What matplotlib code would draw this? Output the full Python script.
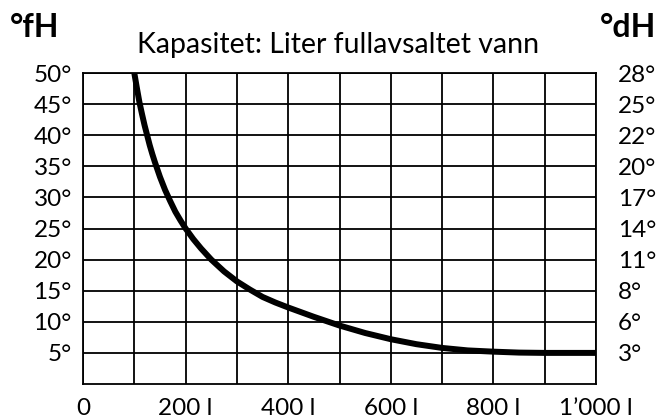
import matplotlib
matplotlib.use("Agg")
import matplotlib.pyplot as plt

# capacity curve
liters = [100, 105, 110, 115, 120, 125, 130, 135, 140, 150, 160, 170, 180, 190,
          200, 215, 230, 250, 275, 300, 325, 350, 375, 400, 450, 500, 550, 600,
          650, 700, 750, 800, 850, 900, 950, 1000]
hardness_fh = [50, 47.6, 45.3, 43.4, 41.6, 40, 38.4, 37, 35.7, 33.3, 31.2, 29.4,
               27.7, 26.3, 25, 23.3, 21.8, 20, 18.1, 16.5, 15.2, 14.0, 13.1,
               12.3, 10.8, 9.4, 8.2, 7.2, 6.4, 5.8, 5.4, 5.2, 5.05, 5.0, 5.0, 5.0]

x_ticks = [0, 200, 400, 600, 800, 1000]
x_labels = ["0", "200 l", "400 l", "600 l", "800 l", "1\u2019000 l"]
fh_ticks = [5, 10, 15, 20, 25, 30, 35, 40, 45, 50]
fh_labels = [f"{v}\u00b0" for v in fh_ticks]
dh_labels = ["3\u00b0", "6\u00b0", "8\u00b0", "11\u00b0", "14\u00b0",
             "17\u00b0", "20\u00b0", "22\u00b0", "25\u00b0", "28\u00b0"]

plt.rcParams['font.family'] = ['Lato', 'DejaVu Sans']

fig = plt.figure(figsize=(6.59, 4.17), dpi=100)
ax = fig.add_axes([83 / 659, 1 - 384 / 417, 513 / 659, 311 / 417])

ax.plot(liters, hardness_fh, color='black', lw=4.3, solid_capstyle='butt',
        solid_joinstyle='round', zorder=3)

ax.set_xlim(0, 1000)
ax.set_ylim(0, 50)
ax.set_xticks(x_ticks)
ax.set_xticklabels(x_labels)
ax.set_xticks(range(100, 1000, 200), minor=True)
ax.set_yticks(fh_ticks)
ax.set_yticklabels(fh_labels)
ax.grid(True, which='both', color='black', lw=1.3)
ax.tick_params(axis='both', which='both', length=0, labelsize=17.5)
ax.tick_params(axis='x', pad=10)
ax.tick_params(axis='y', pad=8)
for s in ax.spines.values():
    s.set_linewidth(1.3)

ax2 = ax.twinx()
ax2.set_ylim(0, 50)
ax2.set_yticks(fh_ticks)
ax2.set_yticklabels(dh_labels)
ax2.tick_params(axis='y', length=0, labelsize=17.5, pad=16)
for s in ax2.spines.values():
    s.set_visible(False)

fig.text(137 / 659, 1 - 53 / 417, "Kapasitet: Liter fullavsaltet vann",
         fontsize=20.5, ha='left', va='baseline')
fig.text(10 / 659, 1 - 37 / 417, "\u00b0fH", fontsize=23, fontweight='bold',
         ha='left', va='baseline')
fig.text(600 / 659, 1 - 37 / 417, "\u00b0dH", fontsize=23, fontweight='bold',
         ha='left', va='baseline')

fig.savefig("out.png", dpi=100)
